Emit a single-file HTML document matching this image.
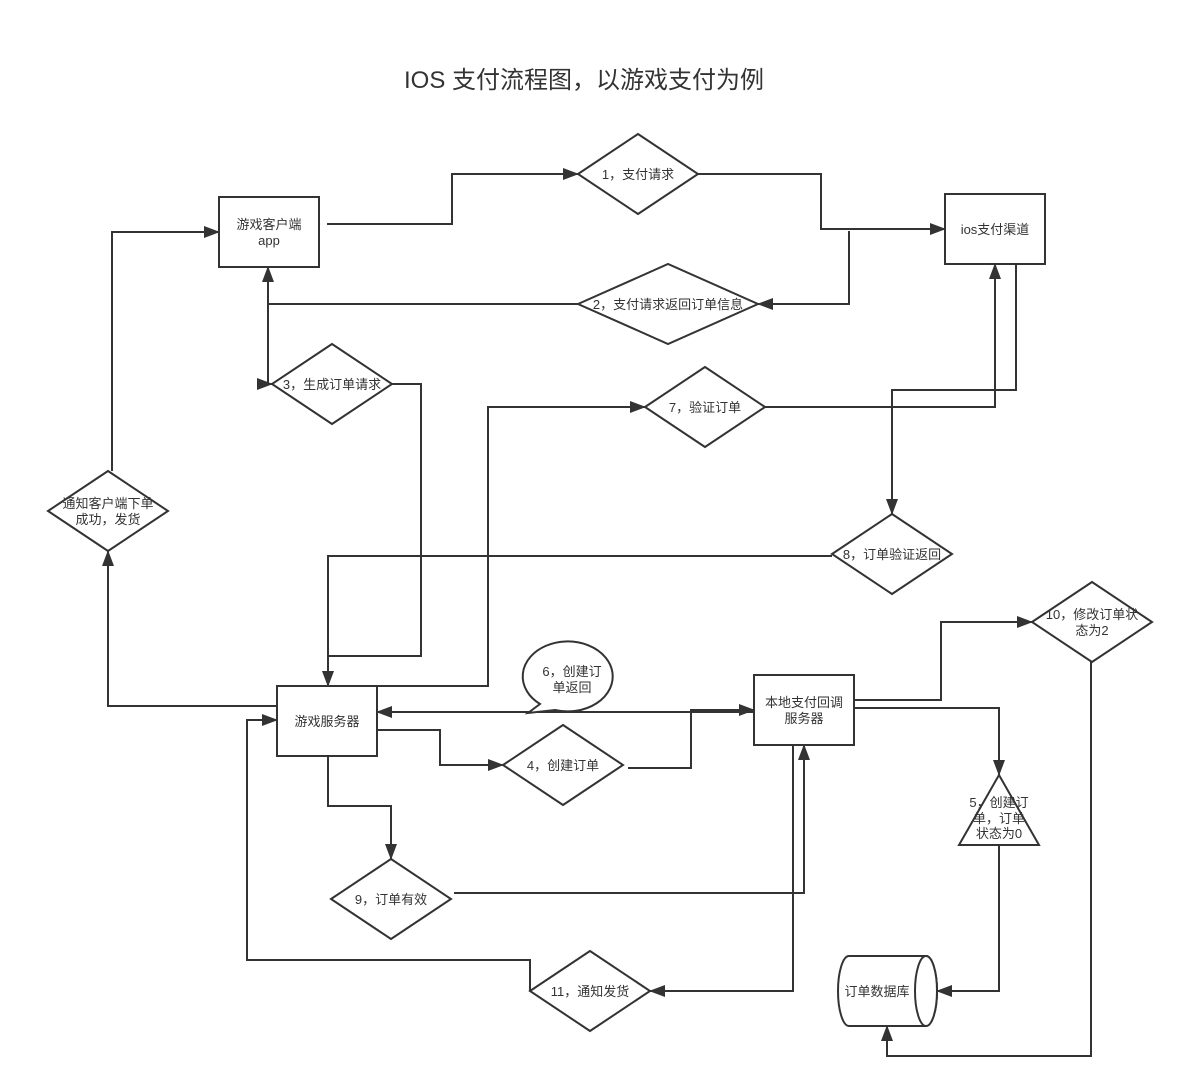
<!DOCTYPE html>
<html><head><meta charset="utf-8"><style>
html,body{margin:0;padding:0;background:#fff;}
svg{display:block;}
text{font-family:"Liberation Sans","Noto Sans CJK SC",sans-serif;font-size:13px;fill:#333;}
.s{fill:#fff;stroke:#333;stroke-width:2;}
.l{fill:none;stroke:#333;stroke-width:2;}
</style></head><body>
<svg width="1184" height="1088" viewBox="0 0 1184 1088" xmlns="http://www.w3.org/2000/svg">
<defs><marker id="a" markerWidth="10" markerHeight="10" refX="9" refY="5" orient="auto" markerUnits="userSpaceOnUse" viewBox="0 0 10 10"><path d="M0,0 L10,5 L0,10 z" fill="#333"/></marker>
<marker id="b" markerWidth="16" markerHeight="12" refX="15" refY="6" orient="auto" markerUnits="userSpaceOnUse" viewBox="0 0 16 12"><path d="M0,0 L16,6 L0,12 z" fill="#333"/></marker></defs>
<text x="584" y="88" text-anchor="middle" style="font-size:24px">IOS 支付流程图，以游戏支付为例</text>

<!-- connectors -->
<g class="l">
<path d="M327,224 H452 V174 H578" marker-end="url(#b)"/>
<path d="M698,174 H821 V229 H945" marker-end="url(#b)"/>
<path d="M849,231 V304 H758" marker-end="url(#b)"/>
<path d="M578,304 H268 V267" marker-end="url(#b)"/>
<path d="M268,304 V384 H272" marker-end="url(#b)"/>
<path d="M392,384 H421 V656 H328 V686" marker-end="url(#b)"/>
<path d="M377,686 H488 V407 H645" marker-end="url(#b)"/>
<path d="M765,407 H995 V264" marker-end="url(#b)"/>
<path d="M1016,264 V390 H892 V514" marker-end="url(#b)"/>
<path d="M832,556 H328 V686"/>
<path d="M277,706 H108 V551" marker-end="url(#b)"/>
<path d="M112,471 V232 H219" marker-end="url(#b)"/>
<path d="M754,712 H377" marker-end="url(#b)"/>
<path d="M628,768 H691 V710 H754" marker-end="url(#b)"/>
<path d="M377,730 H440 V765 H503" marker-end="url(#b)"/>
<path d="M328,756 V806 H391 V859" marker-end="url(#b)"/>
<path d="M454,893 H804 V745" marker-end="url(#b)"/>
<path d="M793,745 V991 H650" marker-end="url(#b)"/>
<path d="M530,991 V960 H247 V720 H277" marker-end="url(#b)"/>
<path d="M854,700 H941 V622 H1032" marker-end="url(#b)"/>
<path d="M854,708 H999 V775" marker-end="url(#b)"/>
<path d="M999,845 V991 H937" marker-end="url(#b)"/>
<path d="M1091,662 V1056 H887 V1026" marker-end="url(#b)"/>
</g>

<!-- nodes -->
<rect class="s" x="219" y="197" width="100" height="70"/>
<text x="269" y="229" text-anchor="middle">游戏客户端</text><text x="269" y="245" text-anchor="middle">app</text>
<rect class="s" x="945" y="194" width="100" height="70"/>
<text x="995" y="234" text-anchor="middle">ios支付渠道</text>

<polygon class="s" points="578,174 638,134 698,174 638,214"/><text x="638" y="179" text-anchor="middle">1，支付请求</text>
<polygon class="s" points="578,304 668,264 758,304 668,344"/><text x="668" y="309" text-anchor="middle">2，支付请求返回订单信息</text>
<polygon class="s" points="272,384 332,344 392,384 332,424"/><text x="332" y="389" text-anchor="middle">3，生成订单请求</text>
<polygon class="s" points="645,407 705,367 765,407 705,447"/><text x="705" y="412" text-anchor="middle">7，验证订单</text>
<polygon class="s" points="832,554 892,514 952,554 892,594"/><text x="892" y="559" text-anchor="middle">8，订单验证返回</text>
<polygon class="s" points="48,511 108,471 168,511 108,551"/><text x="108" y="508" text-anchor="middle">通知客户端下单</text><text x="108" y="524" text-anchor="middle">成功，发货</text>

<rect class="s" x="277" y="686" width="100" height="70"/><text x="327" y="726" text-anchor="middle">游戏服务器</text>
<rect class="s" x="754" y="675" width="100" height="70"/><text x="804" y="707" text-anchor="middle">本地支付回调</text><text x="804" y="723" text-anchor="middle">服务器</text>

<polygon class="s" points="503,765 563,725 623,765 563,805"/><text x="563" y="770" text-anchor="middle">4，创建订单</text>
<polygon class="s" points="331,899 391,859 451,899 391,939"/><text x="391" y="904" text-anchor="middle">9，订单有效</text>
<polygon class="s" points="530,991 590,951 650,991 590,1031"/><text x="590" y="996" text-anchor="middle">11，通知发货</text>
<polygon class="s" points="1032,622 1092,582 1152,622 1092,662"/><text x="1092" y="619" text-anchor="middle">10，修改订单状</text><text x="1092" y="635" text-anchor="middle">态为2</text>

<polygon class="s" points="999,775 1039,845 959,845"/>
<text x="999" y="807" text-anchor="middle">5，创建订</text><text x="999" y="823" text-anchor="middle">单，订单</text><text x="999" y="838" text-anchor="middle">状态为0</text>

<path class="s" d="M849,956 H926 A11,35 0 0 1 926,1026 H849 A11,35 0 0 1 849,956 Z"/>
<ellipse class="s" cx="926" cy="991" rx="11" ry="35"/>
<text x="877" y="996" text-anchor="middle">订单数据库</text>

<path class="s" d="M540,704 A45,35 0 1 1 555,710 L528,713 Z"/>
<text x="572" y="676" text-anchor="middle">6，创建订</text><text x="572" y="692" text-anchor="middle">单返回</text>
</svg>
</body></html>
